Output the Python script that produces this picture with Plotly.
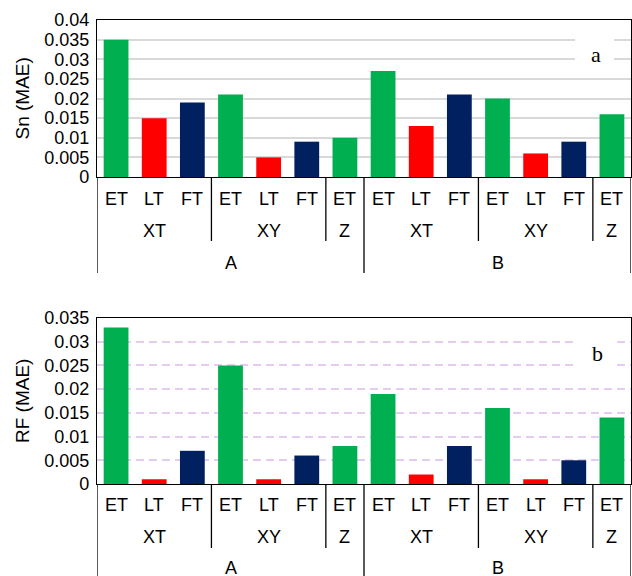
import plotly.graph_objects as go

# ---------------- data ----------------
leaf_labels = ["ET", "LT", "FT", "ET", "LT", "FT", "ET",
               "ET", "LT", "FT", "ET", "LT", "FT", "ET"]
mid_labels = ["XT", "XT", "XT", "XY", "XY", "XY", "Z",
              "XT", "XT", "XT", "XY", "XY", "XY", "Z"]
outer_labels = ["A"] * 7 + ["B"] * 7

sn_values = [0.035, 0.015, 0.019, 0.021, 0.005, 0.009, 0.010,
             0.027, 0.013, 0.021, 0.020, 0.006, 0.009, 0.016]
rf_values = [0.033, 0.001, 0.007, 0.025, 0.001, 0.006, 0.008,
             0.019, 0.002, 0.008, 0.016, 0.001, 0.005, 0.014]

sn_ticks = [0, 0.005, 0.01, 0.015, 0.02, 0.025, 0.03, 0.035, 0.04]
sn_ticktext = ["0", "0.005", "0.01", "0.015", "0.02", "0.025", "0.03", "0.035", "0.04"]
rf_ticks = [0, 0.005, 0.01, 0.015, 0.02, 0.025, 0.03, 0.035]
rf_ticktext = ["0", "0.005", "0.01", "0.015", "0.02", "0.025", "0.03", "0.035"]

leaf_colors = {"ET": "#00B050", "LT": "#FF0000", "FT": "#002060"}

# ---------------- layout helpers ----------------
W, H = 632, 576
FONT = "Liberation Sans, Arial, sans-serif"


def py(px):
    return 1 - px / H


x_idx = list(range(len(leaf_labels)))
bar_colors = [leaf_colors[l] for l in leaf_labels]

fig = go.Figure()
fig.add_trace(go.Bar(x=x_idx, y=sn_values, marker_color=bar_colors, width=0.65,
                     marker_line_width=0, xaxis="x", yaxis="y", showlegend=False))
fig.add_trace(go.Bar(x=x_idx, y=rf_values, marker_color=bar_colors, width=0.65,
                     marker_line_width=0, xaxis="x2", yaxis="y2", showlegend=False))

panels = [
    dict(xa="x", ya="y", top=20, base=177, leaf=199, mid=231, outer=263,
         short=241, long=273, title="Sn (MAE)", letter="a", lx=596, ly=54,
         box=(575, 37, 614, 62)),
    dict(xa="x2", ya="y2", top=318, base=484, leaf=505, mid=537, outer=568,
         short=548, long=576, title="RF (MAE)", letter="b", lx=597, ly=353,
         box=(577, 336, 616, 371)),
]

annotations = []
shapes = []
n = len(leaf_labels)
LBL = dict(family=FONT, size=18, color="#000")

for p in panels:
    for i, lab in enumerate(leaf_labels):
        annotations.append(dict(x=i, y=py(p["leaf"]), xref=p["xa"], yref="paper",
                                text=lab, showarrow=False, xanchor="center", yanchor="middle",
                                font=LBL))
    start = 0
    for i in range(1, n + 1):
        if i == n or mid_labels[i] != mid_labels[start] or outer_labels[i] != outer_labels[start]:
            annotations.append(dict(x=(start + i - 1) / 2, y=py(p["mid"]), xref=p["xa"], yref="paper",
                                    text=mid_labels[start], showarrow=False, xanchor="center",
                                    yanchor="middle", font=LBL))
            if i < n:
                long_line = outer_labels[i] != outer_labels[start]
                shapes.append(dict(type="line", xref=p["xa"], yref="paper",
                                   x0=i - 0.5, x1=i - 0.5, y0=py(p["base"]),
                                   y1=py(p["long"] if long_line else p["short"]),
                                   line=dict(color="#000", width=1.3)))
            start = i
    start = 0
    for i in range(1, n + 1):
        if i == n or outer_labels[i] != outer_labels[start]:
            annotations.append(dict(x=(start + i - 1) / 2, y=py(p["outer"]), xref=p["xa"], yref="paper",
                                    text=outer_labels[start], showarrow=False, xanchor="center",
                                    yanchor="middle", font=LBL))
            start = i
    for xb in (-0.5, n - 0.5):
        shapes.append(dict(type="line", xref=p["xa"], yref="paper", x0=xb, x1=xb,
                           y0=py(p["base"]), y1=py(p["long"]),
                           line=dict(color="#000", width=1.3)))
    annotations.append(dict(x=22 / W, y=py((p["top"] + p["base"]) / 2), xref="paper", yref="paper",
                            text=p["title"], textangle=-90, showarrow=False,
                            xanchor="center", yanchor="middle",
                            font=dict(family=FONT, size=19, color="#000")))
    x0, y0, x1, y1 = p["box"]
    shapes.append(dict(type="rect", xref="paper", yref="paper", x0=x0 / W, x1=x1 / W,
                       y0=py(y1), y1=py(y0), fillcolor="white", line=dict(width=0), layer="above"))
    annotations.append(dict(x=p["lx"] / W, y=py(p["ly"]), xref="paper", yref="paper",
                            text=p["letter"], showarrow=False, xanchor="center", yanchor="middle",
                            font=dict(family="Liberation Serif, Times New Roman, serif", size=22, color="#000")))

xdom = [97 / W, 631 / W]
common_x = dict(range=[-0.5, n - 0.5], showticklabels=False, ticks="", showgrid=False,
                zeroline=False, showline=True, linecolor="#000", linewidth=1.3, mirror=True,
                fixedrange=True, domain=xdom)

fig.update_layout(
    width=W, height=H,
    margin=dict(l=0, r=0, t=0, b=0),
    paper_bgcolor="white", plot_bgcolor="white",
    bargap=0.35,
    xaxis=dict(common_x, anchor="y"),
    xaxis2=dict(common_x, anchor="y2"),
    yaxis=dict(domain=[py(177), py(20)], range=[0, 0.04], tickvals=sn_ticks, ticktext=sn_ticktext,
               showgrid=True, gridcolor="#D9D9D9", gridwidth=1.5, zeroline=False,
               showline=True, linecolor="#000", linewidth=1.3, mirror=True,
               ticks="outside", ticklen=3, tickcolor="rgba(0,0,0,0)",
               tickfont=dict(family=FONT, size=18, color="#000"), anchor="x", automargin=False,
               fixedrange=True),
    yaxis2=dict(domain=[py(484), py(318)], range=[0, 0.035], tickvals=rf_ticks, ticktext=rf_ticktext,
                showgrid=True, gridcolor="#E6CCF2", gridwidth=1.5, griddash="8px,5px", zeroline=False,
                showline=True, linecolor="#000", linewidth=1.3, mirror=True,
                ticks="outside", ticklen=3, tickcolor="rgba(0,0,0,0)",
                tickfont=dict(family=FONT, size=18, color="#000"), anchor="x2", automargin=False,
                fixedrange=True),
    annotations=annotations,
    shapes=shapes,
)

fig.write_html("out.html", config={"displayModeBar": False},
               post_script="document.body.style.margin='0';document.body.style.overflow='hidden';")
